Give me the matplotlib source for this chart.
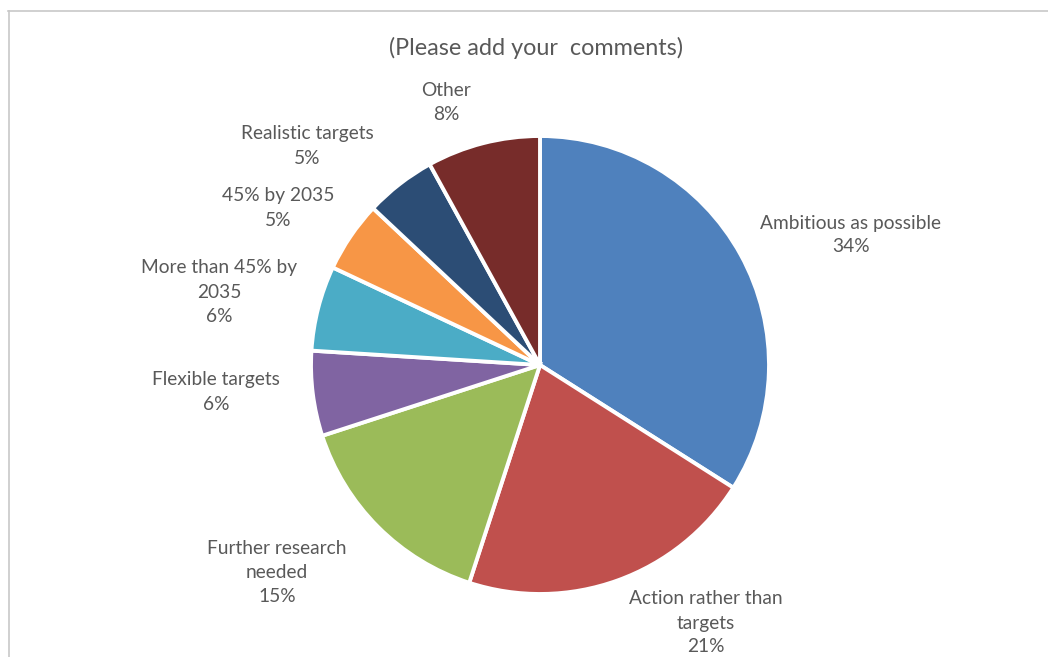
import matplotlib
matplotlib.use("Agg")
import matplotlib.pyplot as plt
from matplotlib.lines import Line2D

# Survey responses (share of comments, %)
categories = [
    "Ambitious as possible",
    "Action rather than targets",
    "Further research needed",
    "Flexible targets",
    "More than 45% by 2035",
    "45% by 2035",
    "Realistic targets",
    "Other",
]
shares = [34, 21, 15, 6, 6, 5, 5, 8]
label_texts = [
    "Ambitious as possible",
    "Action rather than\ntargets",
    "Further research\nneeded",
    "Flexible targets",
    "More than 45% by\n2035",
    "45% by 2035",
    "Realistic targets",
    "Other",
]
colors = ["#4F81BD", "#C0504D", "#9BBB59", "#8064A2",
          "#4BACC6", "#F79646", "#2C4D75", "#772C2A"]

# label anchor points in figure pixels (x from left, y from top)
label_pos = [(851, 235), (706, 623), (277, 573), (216, 392),
             (219, 292), (278, 208), (307, 146), (446, 103)]

W, H = 1048, 657
fig = plt.figure(figsize=(W / 100, H / 100), dpi=100)
fig.patch.set_facecolor("white")
ax = fig.add_axes([0, 0, 1, 1])

cx, cy, r = 540, H - 365, 229
ax.pie(shares, colors=colors, startangle=90, counterclock=False,
       center=(cx, cy), radius=r,
       wedgeprops=dict(edgecolor="white", linewidth=2.8))
ax.set_xlim(0, W)
ax.set_ylim(0, H)
ax.set_aspect("auto")
ax.axis("off")

font = ["Lato", "DejaVu Sans"]
txt_color = "#595959"
for lab, val, (x, y) in zip(label_texts, shares, label_pos):
    ax.text(x, H - y, f"{lab}\n{val}%", ha="center", va="center",
            fontsize=13.8, color=txt_color, family=font, linespacing=1.5)

ax.text(536, H - 48, "(Please add your  comments)", ha="center", va="center",
        fontsize=16.8, color=txt_color, family=font)

# chart area border (top and left edges)
ax.add_line(Line2D([8, W], [H - 10.5, H - 10.5], color="#C8C8C8", lw=1.2))
ax.add_line(Line2D([8.5, 8.5], [0, H - 10.5], color="#C8C8C8", lw=1.2))

fig.savefig("out.png", dpi=100, facecolor="white")
